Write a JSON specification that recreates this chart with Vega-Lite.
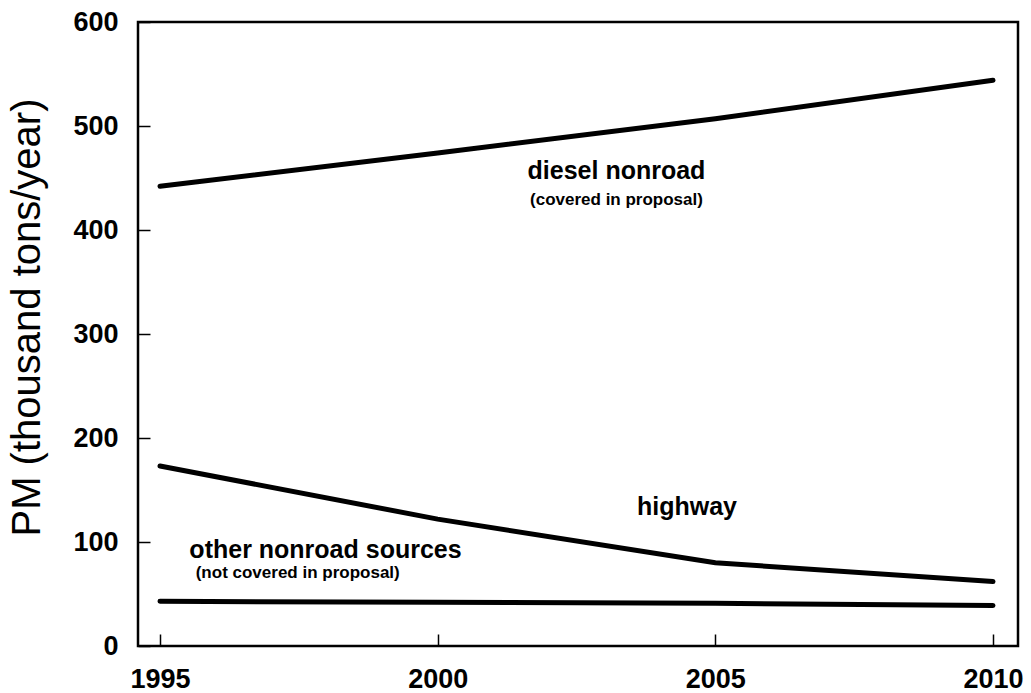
{
  "$schema": "https://vega.github.io/schema/vega-lite/v6.json",
  "width": 880,
  "height": 624,
  "autosize": {"type": "none"},
  "padding": {"left": 138, "top": 22, "right": 13, "bottom": 47},
  "background": "white",
  "config": {
    "view": {"stroke": "black", "strokeWidth": 2.5},
    "font": "Liberation Sans",
    "axis": {
      "grid": false,
      "domain": false,
      "tickColor": "black",
      "tickWidth": 1.5,
      "labelFont": "Liberation Sans",
      "labelFontWeight": "bold",
      "labelFontSize": 27,
      "labelColor": "black",
      "titleFont": "Liberation Sans",
      "titleColor": "black"
    }
  },
  "datasets": {
    "series": [
      {"year": 1995, "value": 442, "source": "diesel nonroad"},
      {"year": 2000, "value": 474, "source": "diesel nonroad"},
      {"year": 2005, "value": 507, "source": "diesel nonroad"},
      {"year": 2010, "value": 544, "source": "diesel nonroad"},
      {"year": 1995, "value": 173, "source": "highway"},
      {"year": 2000, "value": 122, "source": "highway"},
      {"year": 2005, "value": 80, "source": "highway"},
      {"year": 2010, "value": 62, "source": "highway"},
      {"year": 1995, "value": 43, "source": "other nonroad sources"},
      {"year": 2000, "value": 42, "source": "other nonroad sources"},
      {"year": 2005, "value": 41, "source": "other nonroad sources"},
      {"year": 2010, "value": 39, "source": "other nonroad sources"}
    ],
    "bigLabels": [
      {"year": 2003.22, "value": 457, "label": "diesel nonroad"},
      {"year": 2004.49, "value": 134, "label": "highway"},
      {"year": 1997.98, "value": 92, "label": "other nonroad sources"}
    ],
    "smallLabels": [
      {"year": 2003.22, "value": 429, "label": "(covered in proposal)"},
      {"year": 1997.48, "value": 70, "label": "(not covered in proposal)"}
    ]
  },
  "layer": [
    {
      "data": {"name": "series"},
      "mark": {"type": "line", "color": "black", "strokeWidth": 5, "strokeCap": "round"},
      "encoding": {
        "x": {
          "field": "year", "type": "quantitative",
          "scale": {"domain": [1994.604, 2010.45], "nice": false, "zero": false},
          "axis": {"values": [1995, 2000, 2005, 2010], "format": "d", "title": null, "offset": -12, "tickSize": 12, "labelPadding": 20, "labelFlush": false}
        },
        "y": {
          "field": "value", "type": "quantitative",
          "scale": {"domain": [0, 600], "nice": false},
          "axis": {"values": [0, 100, 200, 300, 400, 500, 600], "title": "PM (thousand tons/year)", "titleFontSize": 40, "titleFontWeight": "normal", "titleX": -123, "titleY": 295, "titleAngle": -90, "titleAlign": "center", "titleBaseline": "middle", "offset": -12, "tickSize": 12, "labelPadding": 20, "labelFlush": false}
        },
        "detail": {"field": "source"}
      }
    },
    {
      "data": {"name": "bigLabels"},
      "mark": {"type": "text", "font": "Liberation Sans", "fontWeight": "bold", "fontSize": 25, "color": "black", "align": "center", "baseline": "middle"},
      "encoding": {
        "x": {"field": "year", "type": "quantitative"},
        "y": {"field": "value", "type": "quantitative"},
        "text": {"field": "label"}
      }
    },
    {
      "data": {"name": "smallLabels"},
      "mark": {"type": "text", "font": "Liberation Sans", "fontWeight": "bold", "fontSize": 17, "color": "black", "align": "center", "baseline": "middle"},
      "encoding": {
        "x": {"field": "year", "type": "quantitative"},
        "y": {"field": "value", "type": "quantitative"},
        "text": {"field": "label"}
      }
    }
  ]
}
